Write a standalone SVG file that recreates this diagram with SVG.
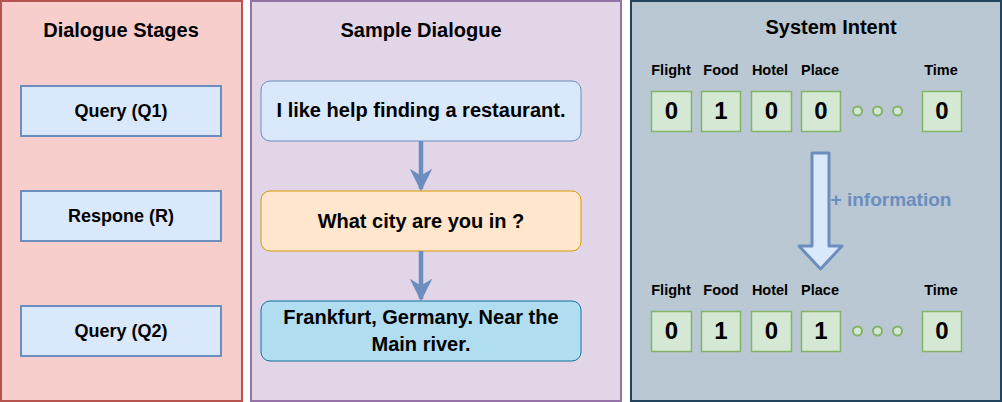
<svg xmlns="http://www.w3.org/2000/svg" width="1002" height="402" viewBox="0 0 1002 402">
<defs>
<style>
text{font-family:"Liberation Sans",Arial,sans-serif;font-weight:bold;fill:#000;text-anchor:middle}
.title{font-size:20px}
.lbl{font-size:18px}
.dlg{font-size:20px}
.slot{font-size:14.5px}
.num{font-size:24px}
.stage{fill:#dae8fc;stroke:#6c8ebf;stroke-width:2}
.cell{fill:#d5e8d4;stroke:#82b366;stroke-width:1.5}
.dot{fill:#d5e8d4;stroke:#82b366;stroke-width:2}
.conn{stroke:#6c8ebf;stroke-width:4.5;fill:none}
</style>
<marker id="ah" viewBox="0 0 10 10" refX="9" refY="5" markerWidth="5" markerHeight="5" markerUnits="strokeWidth" orient="auto">
<path d="M0,0 L10,5 L0,10 L3,5 Z" fill="#6c8ebf"/>
</marker>
</defs>
<g id="panel-stages">
<rect x="1" y="1" width="241" height="400" fill="#f8cecc" stroke="#b85450" stroke-width="2"/>
<text class="title" x="121" y="37">Dialogue Stages</text>
</g>
<g id="stage-q1"><rect class="stage" x="21" y="86" width="200" height="50"/><text class="lbl" x="121" y="117">Query (Q1)</text></g>
<g id="stage-r"><rect class="stage" x="21" y="191" width="200" height="50"/><text class="lbl" x="121" y="222">Respone (R)</text></g>
<g id="stage-q2"><rect class="stage" x="21" y="306" width="200" height="50"/><text class="lbl" x="121" y="337">Query (Q2)</text></g>

<g id="panel-dialogue">
<rect x="251" y="1" width="370" height="400" fill="#e1d5e7" stroke="#9673a6" stroke-width="2"/>
<text class="title" x="421" y="37">Sample Dialogue</text>
</g>
<g id="dlg-1"><rect x="261" y="81" width="320" height="60" rx="9" fill="#dae8fc" stroke="#6c8ebf"/><text class="dlg" x="421" y="117">I like help finding a restaurant.</text></g>
<g id="dlg-2"><rect x="261" y="191" width="320" height="60" rx="9" fill="#ffe6cc" stroke="#d79b00"/><text class="dlg" x="421" y="228">What city are you in ?</text></g>
<g id="dlg-3"><rect x="261" y="301" width="320" height="60" rx="9" fill="#b1ddf0" stroke="#10739e"/><text class="dlg" x="421" y="324">Frankfurt, Germany. Near the</text><text class="dlg" x="421" y="351">Main river.</text></g>

<g id="connectors">
<line class="conn" x1="421" y1="141" x2="421" y2="189" marker-end="url(#ah)"/>
<line class="conn" x1="421" y1="251" x2="421" y2="299" marker-end="url(#ah)"/>
</g>

<g id="panel-intent">
<rect x="631" y="1" width="370" height="400" fill="#bac8d3" stroke="#23445d" stroke-width="2"/>
<text class="title" x="831" y="34">System Intent</text>
</g>
<g id="intent-before">
<text class="slot" x="671" y="75">Flight</text>
<text class="slot" x="721" y="75">Food</text>
<text class="slot" x="770" y="75">Hotel</text>
<text class="slot" x="820" y="75">Place</text>
<text class="slot" x="941" y="75">Time</text>
<rect class="cell" x="651.5" y="91.5" width="40" height="40"/><text class="num" x="671.5" y="119">0</text>
<rect class="cell" x="701.5" y="91.5" width="39" height="40"/><text class="num" x="721" y="119">1</text>
<rect class="cell" x="751.5" y="91.5" width="40" height="40"/><text class="num" x="771.5" y="119">0</text>
<rect class="cell" x="801.5" y="91.5" width="39" height="40"/><text class="num" x="821" y="119">0</text>
<circle class="dot" cx="857.5" cy="111" r="4.5"/><circle class="dot" cx="877.5" cy="111" r="4.5"/><circle class="dot" cx="897.5" cy="111" r="4.5"/>
<rect class="cell" x="922.5" y="91.5" width="39" height="40"/><text class="num" x="942" y="119">0</text>
</g>
<g id="info-arrow">
<path d="M812,153 L829,153 L829,246 L842,246 L820.5,269 L799,246 L812,246 Z" fill="#dae8fc" stroke="#6c8ebf" stroke-width="3" stroke-linejoin="round"/>
<text x="891" y="206" style="font-size:19px;fill:#6c8ebf">+ information</text>
</g>
<g id="intent-after">
<text class="slot" x="671" y="295">Flight</text>
<text class="slot" x="721" y="295">Food</text>
<text class="slot" x="770" y="295">Hotel</text>
<text class="slot" x="820" y="295">Place</text>
<text class="slot" x="941" y="295">Time</text>
<rect class="cell" x="651.5" y="311.5" width="40" height="40"/><text class="num" x="671.5" y="339">0</text>
<rect class="cell" x="701.5" y="311.5" width="39" height="40"/><text class="num" x="721" y="339">1</text>
<rect class="cell" x="751.5" y="311.5" width="40" height="40"/><text class="num" x="771.5" y="339">0</text>
<rect class="cell" x="801.5" y="311.5" width="39" height="40"/><text class="num" x="821" y="339">1</text>
<circle class="dot" cx="857.5" cy="331" r="4.5"/><circle class="dot" cx="877.5" cy="331" r="4.5"/><circle class="dot" cx="897.5" cy="331" r="4.5"/>
<rect class="cell" x="922.5" y="311.5" width="39" height="40"/><text class="num" x="942" y="339">0</text>
</g>
</svg>
